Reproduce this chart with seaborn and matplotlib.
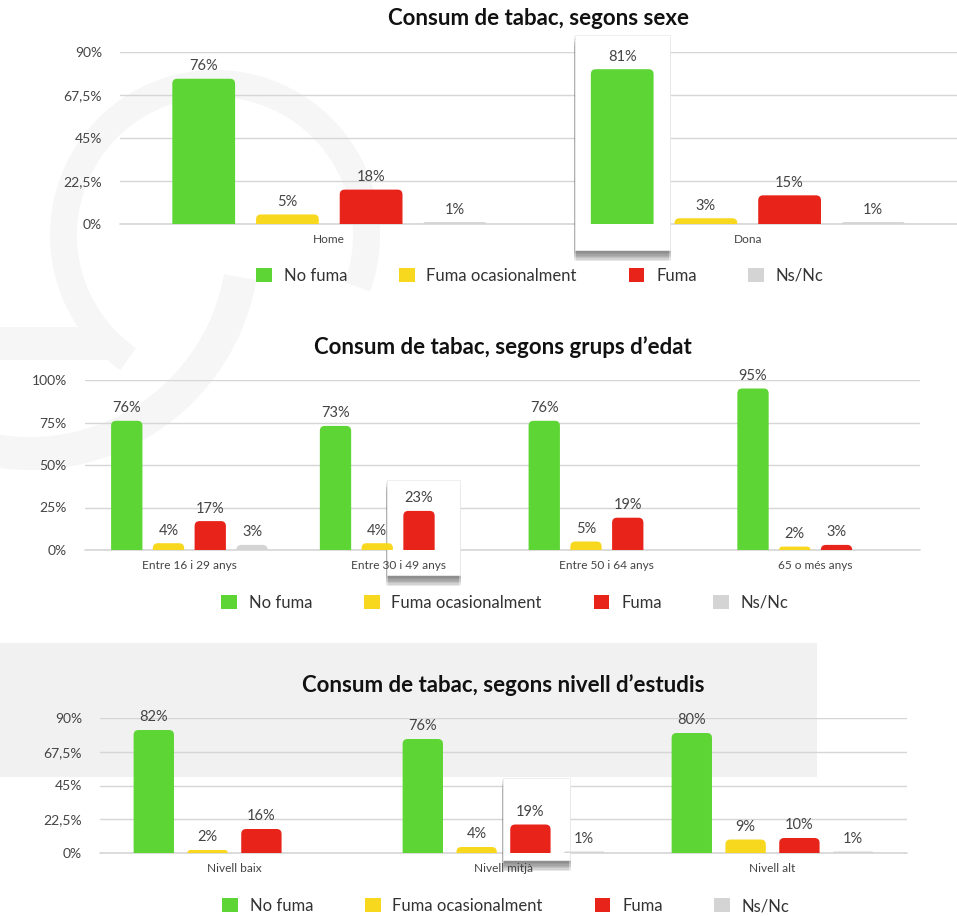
import numpy as np
import pandas as pd
import matplotlib
matplotlib.use("Agg")
import matplotlib.pyplot as plt
import seaborn as sns
from matplotlib.patches import FancyBboxPatch, Rectangle, Polygon, Patch
from matplotlib import patheffects as pe

# --- data -------------------------------------------------------------
series = ["No fuma", "Fuma ocasionalment", "Fuma", "Ns/Nc"]
colors = ["#5DD534", "#F8D81F", "#E8231A", "#D4D4D4"]

sexe_cats = ["Home", "Dona"]
sexe_no_fuma = [76, 81]
sexe_ocasional = [5, 3]
sexe_fuma = [18, 15]
sexe_nsnc = [1, 1]

edat_cats = ["Entre 16 i 29 anys", "Entre 30 i 49 anys",
             "Entre 50 i 64 anys", "65 o més anys"]
edat_no_fuma = [76, 73, 76, 95]
edat_ocasional = [4, 4, 5, 2]
edat_fuma = [17, 23, 19, 3]
edat_nsnc = [3, None, None, None]

estudis_cats = ["Nivell baix", "Nivell mitjà", "Nivell alt"]
estudis_no_fuma = [82, 76, 80]
estudis_ocasional = [2, 4, 9]
estudis_fuma = [16, 19, 10]
estudis_nsnc = [None, 1, 1]

ticks_90 = [0, 22.5, 45, 67.5, 90]
ticklabels_90 = ["0%", "22,5%", "45%", "67,5%", "90%"]
ticks_100 = [0, 25, 50, 75, 100]
ticklabels_100 = ["0%", "25%", "50%", "75%", "100%"]

titles = ["Consum de tabac, segons sexe",
          "Consum de tabac, segons grups d\u2019edat",
          "Consum de tabac, segons nivell d\u2019estudis"]

# --- style ------------------------------------------------------------
sns.set_style("white")
plt.rcParams["font.family"] = ["Lato", "DejaVu Sans"]

W, H = 957, 916
fig = plt.figure(figsize=(W / 100, H / 100), dpi=100)
fig.patch.set_facecolor("white")

GRID = "#d6d6d6"
TXT = "#444444"


def frac(left, top, right, bottom):
    return [left / W, 1 - bottom / H, (right - left) / W, (bottom - top) / H]


def long_frame(cats, cols):
    rows = []
    for s, vals in zip(series, cols):
        for c, v in zip(cats, vals):
            if v is not None:
                rows.append({"grup": c, "serie": s, "valor": float(v)})
    return pd.DataFrame(rows)


# --- faint background decoration -----------------------------------------
bg = fig.add_axes([0, 0, 1, 1], zorder=-5)
bg.set_xlim(0, W)
bg.set_ylim(H, 0)
bg.axis("off")
WM = "#f6f6f6"


def arc(cx, cy, r_out, width, t0, t1):
    t = np.radians(np.linspace(t0, t1, 240))
    outer = np.column_stack([cx + r_out * np.cos(t), cy + r_out * np.sin(t)])
    ri = r_out - width
    inner = np.column_stack([cx + ri * np.cos(t[::-1]), cy + ri * np.sin(t[::-1])])
    return Polygon(np.vstack([outer, inner]), closed=True, fc=WM, ec="none")


bg.add_patch(arc(215, 235, 165, 27, 125, 380))
bg.add_patch(Rectangle((0, 327), 112, 33, fc=WM, ec="none"))
bg.add_patch(arc(30, 240, 230, 33, 10, 100))
bg.add_patch(Rectangle((0, 643), 817, 134, fc="#f1f1f1", ec="none"))

# soft drop shadow for the highlight cards
card_shadow = [pe.SimplePatchShadow(offset=(dx, -k), shadow_rgbFace="#555555", alpha=0.07)
               for k in (1, 2, 3, 4, 5, 6, 7, 8) for dx in (-1, 1)]


# --- one grouped bar chart --------------------------------------------------
def draw_chart(rect, cats, cols, ymax, ticks, ticklabels, title, popup, legend_xy):
    left, top, right, bottom = rect
    ax = fig.add_axes(frac(*rect))
    ax.set_facecolor("none")
    df = long_frame(cats, cols)
    sns.barplot(data=df, x="grup", y="valor", hue="serie", order=cats,
                hue_order=series, palette=colors, width=0.8, gap=0.25,
                saturation=1, errorbar=None, legend=False, ax=ax)
    ax.set_xlim(-0.5, len(cats) - 0.5)
    ax.set_ylim(0, ymax)
    ax.set_yticks(ticks)
    ax.set_yticklabels(ticklabels)
    ax.set_xlabel("")
    ax.set_ylabel("")
    for sp in ax.spines.values():
        sp.set_visible(False)
    ax.set_axisbelow(True)
    ax.yaxis.grid(True, color=GRID, lw=1)
    ax.xaxis.grid(False)
    ax.axhline(0, color=GRID, lw=1.2, zorder=0.6, clip_on=False)
    ax.tick_params(axis="y", length=0, pad=13, labelsize=10, labelcolor=TXT)
    ax.tick_params(axis="x", length=0, labelbottom=False)

    # category names under each group
    for i, c in enumerate(cats):
        ax.annotate(c, xy=(i, 0), xycoords=ax.get_xaxis_transform(),
                    xytext=(0, -11.5), textcoords="offset points",
                    ha="center", va="center", fontsize=8.6, color=TXT,
                    zorder=4, annotation_clip=False)

    # value labels
    for cont in ax.containers:
        ax.bar_label(cont, labels=[f"{v:.0f}%" for v in cont.datavalues],
                     padding=4, fontsize=10.5, color=TXT, zorder=4)

    # rounded top corners
    px_x = (right - left) / len(cats)
    px_y = (bottom - top) / ymax
    aspect = px_x / px_y
    for cont in ax.containers:
        for bar in cont:
            x, w, h = bar.get_x(), bar.get_width(), bar.get_height()
            r_px = min(5.0, h * px_y)
            rx = r_px / px_x
            ry = r_px / px_y
            p = FancyBboxPatch((x, -ry), w, h + ry,
                               boxstyle=f"round,pad=0,rounding_size={rx}",
                               mutation_aspect=aspect,
                               fc=bar.get_facecolor(), ec="none", zorder=3)
            ax.add_patch(p)
            bar.set_visible(False)

    # highlighted bar card
    if popup is not None:
        x0, x1, y0, y1 = popup
        card = Rectangle((x0, y0), x1 - x0, y1 - y0, fc="white", ec="#ececec",
                         lw=0.6, zorder=1.5, clip_on=False,
                         path_effects=card_shadow + [pe.Normal()])
        ax.add_patch(card)

    ax.annotate(title, xy=(0.5, 1), xycoords="axes fraction", xytext=(0, 24),
                textcoords="offset points", ha="center", va="center",
                fontsize=16, fontweight="bold", color="#111111")

    handles = [Patch(fc=c, ec="none") for c in colors]
    fig.legend(handles, series, loc="center",
               bbox_to_anchor=(legend_xy[0] / W, 1 - legend_xy[1] / H),
               ncol=4, frameon=False, fontsize=12, handlelength=0.95,
               handleheight=0.95, handletextpad=0.7, columnspacing=3.1,
               labelcolor="#333333")
    return ax


draw_chart((120, 52, 957, 224), sexe_cats,
           [sexe_no_fuma, sexe_ocasional, sexe_fuma, sexe_nsnc],
           90, ticks_90, ticklabels_90, titles[0],
           (0.587, 0.814, -13.6, 98.9), (540, 276))

draw_chart((85, 380, 920, 550), edat_cats,
           [edat_no_fuma, edat_ocasional, edat_fuma, edat_nsnc],
           100, ticks_100, ticklabels_100, titles[1],
           (0.947, 1.296, -14.7, 41.2), (505, 603))

draw_chart((100, 718, 907, 853), estudis_cats,
           [estudis_no_fuma, estudis_ocasional, estudis_fuma, estudis_nsnc],
           90, ticks_90, ticklabels_90, titles[2],
           (0.998, 1.247, -4.7, 50), (506, 906))

fig.savefig("out.png", dpi=100, facecolor="white")
